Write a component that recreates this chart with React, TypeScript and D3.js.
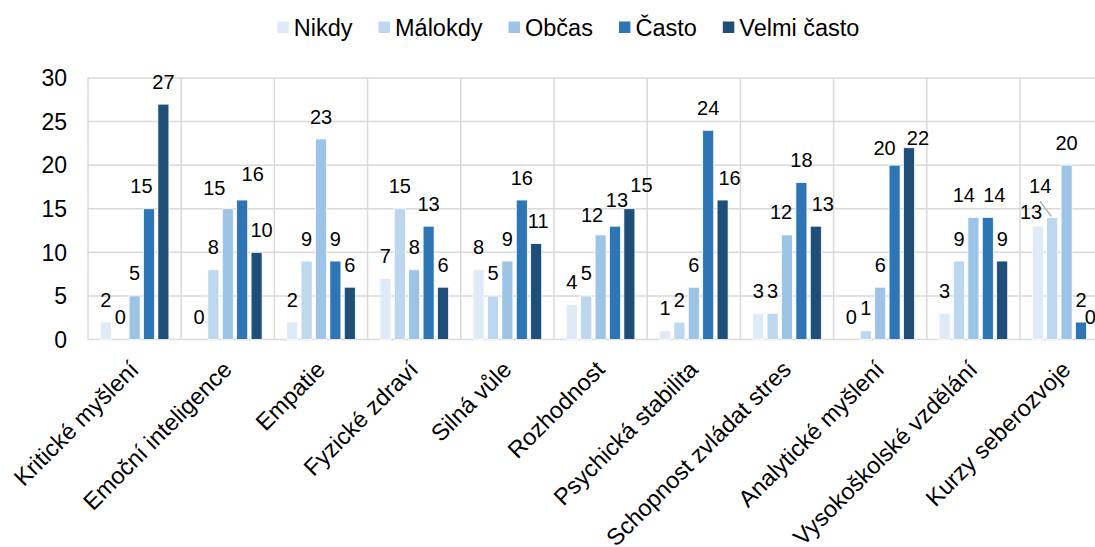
import React from "react";
import * as d3 from "d3";

const categories = [
  "Kritické myšlení",
  "Emoční inteligence",
  "Empatie",
  "Fyzické zdraví",
  "Silná vůle",
  "Rozhodnost",
  "Psychická stabilita",
  "Schopnost zvládat stres",
  "Analytické myšlení",
  "Vysokoškolské vzdělání",
  "Kurzy seberozvoje",
];

const seriesNames = ["Nikdy", "Málokdy", "Občas", "Často", "Velmi často"];

const nikdy = [2, 0, 2, 7, 8, 4, 1, 3, 0, 3, 13];
const malokdy = [0, 8, 9, 15, 5, 5, 2, 3, 1, 9, 14];
const obcas = [5, 15, 23, 8, 9, 12, 6, 12, 6, 14, 20];
const casto = [15, 16, 9, 13, 16, 13, 24, 18, 20, 14, 2];
const velmiCasto = [27, 10, 6, 6, 11, 15, 16, 13, 22, 9, 0];

const seriesValues = [nikdy, malokdy, obcas, casto, velmiCasto];
const colors = ["#DEEBF7", "#BDD7EE", "#9DC3E6", "#2E75B6", "#1F4E79"];
const yTicks = [0, 5, 10, 15, 20, 25, 30];

// label nudges (layout only): [dx, dy]
const labelNudge: Record<string, [number, number]> = {
  "0|3": [-7.5, 0],
  "1|2": [-13.5, 2],
  "1|3": [10.5, -3.5],
  "1|4": [5, 0],
  "4|4": [2, 0],
  "5|2": [-8.6, 2.5],
  "5|3": [2, -3.5],
  "5|4": [12, -1.5],
  "6|4": [7, 0],
  "7|2": [-6, 0],
  "7|4": [7, 0],
  "8|3": [-10, 5.5],
  "8|4": [9, 13],
  "9|2": [-9.6, 0],
  "9|3": [6.5, 0],
  "10|0": [-6.7, 8],
  "10|1": [-12, -9],
  "10|4": [-5, 0],
};

const FONT = "'Liberation Sans', Arial, sans-serif";

export default function App() {
  const W = 1095;
  const H = 547;
  const left = 88;
  const bandW = 93.2;
  const x0 = d3
    .scaleBand<string>()
    .domain(categories)
    .range([left, left + bandW * categories.length])
    .paddingInner(0)
    .paddingOuter(0);
  const x1 = d3
    .scaleBand<string>()
    .domain(seriesNames)
    .range([12.3, bandW - 12.3])
    .paddingInner(0.235)
    .paddingOuter(0);
  const y = d3.scaleLinear().domain([0, 30]).range([339.5, 78]);

  const plotRight = left + bandW * categories.length;

  // legend layout
  const legendFont = 23.5;
  const swatch = 11.5;
  const approxWidth = (s: string) => {
    const m: Record<string, number> = {
      N: 0.722, i: 0.222, k: 0.5, d: 0.556, y: 0.5, M: 0.833, "á": 0.556, l: 0.222, o: 0.556,
      O: 0.778, b: 0.556, "č": 0.5, a: 0.556, s: 0.5, "Č": 0.722, t: 0.278, V: 0.667, e: 0.556,
      m: 0.833, " ": 0.278,
    };
    return s.split("").reduce((acc, c) => acc + (m[c] ?? 0.556), 0) * legendFont;
  };
  const itemGap = 26;
  const items = seriesNames.map((n) => ({ n, w: swatch + 5 + approxWidth(n) }));
  const totalW = items.reduce((a, b) => a + b.w, 0) + itemGap * (items.length - 1);
  let cursor = 569 - totalW / 2;
  const legendItems = items.map((it, i) => {
    const xi = cursor;
    cursor += it.w + itemGap;
    return { ...it, x: xi, color: colors[i] };
  });

  return (
    <svg
      width={W}
      height={H}
      style={{ position: "absolute", left: 0, top: 0, background: "#fff" }}
      fontFamily={FONT}
    >
      {/* gridlines */}
      {yTicks.map((t) => (
        <line
          key={"g" + t}
          x1={left}
          x2={plotRight}
          y1={y(t)}
          y2={y(t)}
          stroke="#D9D9D9"
          strokeWidth={1.5}
        />
      ))}
      {/* category separators */}
      {categories.map((c) => (
        <line
          key={"s" + c}
          x1={x0(c)!}
          x2={x0(c)!}
          y1={y(30)}
          y2={y(0)}
          stroke="#D9D9D9"
          strokeWidth={1.5}
        />
      ))}
      <line x1={plotRight} x2={plotRight} y1={y(30)} y2={y(0)} stroke="#D9D9D9" strokeWidth={1.5} />

      {/* y tick labels */}
      {yTicks.map((t) => (
        <text
          key={"t" + t}
          x={67}
          y={y(t)}
          dy="0.36em"
          textAnchor="end"
          fontSize={23}
          fill="#000"
        >
          {t}
        </text>
      ))}

      {/* bars */}
      {categories.map((c, ci) =>
        seriesNames.map((s, si) => {
          const v = seriesValues[si][ci];
          const bx = x0(c)! + x1(s)!;
          return (
            <rect
              key={c + s}
              x={bx}
              y={y(v)}
              width={x1.bandwidth()}
              height={y(0) - y(v)}
              fill={colors[si]}
              stroke="#fff"
              strokeWidth={0.75}
            />
          );
        })
      )}

      {/* data labels */}
      {categories.map((c, ci) =>
        seriesNames.map((s, si) => {
          const v = seriesValues[si][ci];
          const cx = x0(c)! + x1(s)! + x1.bandwidth() / 2;
          const [dx, dy] = labelNudge[`${ci}|${si}`] ?? [0, 0];
          return (
            <text
              key={"l" + c + s}
              x={cx + dx}
              y={y(v) - 15.5 + dy}
              textAnchor="middle"
              fontSize={20}
              fill="#000"
            >
              {v}
            </text>
          );
        })
      )}
      {/* leader line for Kurzy seberozvoje / Málokdy */}
      {(() => {
        const ci = 10;
        const si = 1;
        const c = categories[ci];
        const cx = x0(c)! + x1(seriesNames[si])! + x1.bandwidth() / 2;
        const v = seriesValues[si][ci];
        return (
          <line
            x1={cx - 12}
            y1={y(v) - 16}
            x2={cx - 1}
            y2={y(v) - 1}
            stroke="#A6A6A6"
            strokeWidth={1.2}
          />
        );
      })()}

      {/* category labels */}
      {categories.map((c) => {
        const cx = x0(c)! + bandW / 2;
        return (
          <text
            key={"c" + c}
            transform={`translate(${cx + 5.5},${371}) rotate(-45)`}
            textAnchor="end"
            fontSize={23.5}
            fill="#000"
          >
            {c}
          </text>
        );
      })}

      {/* legend */}
      {legendItems.map((it) => (
        <g key={"lg" + it.n}>
          <rect x={it.x} y={21.5} width={swatch} height={swatch} fill={it.color} />
          <text x={it.x + swatch + 5} y={35.5} fontSize={legendFont} fill="#000">
            {it.n}
          </text>
        </g>
      ))}
    </svg>
  );
}
